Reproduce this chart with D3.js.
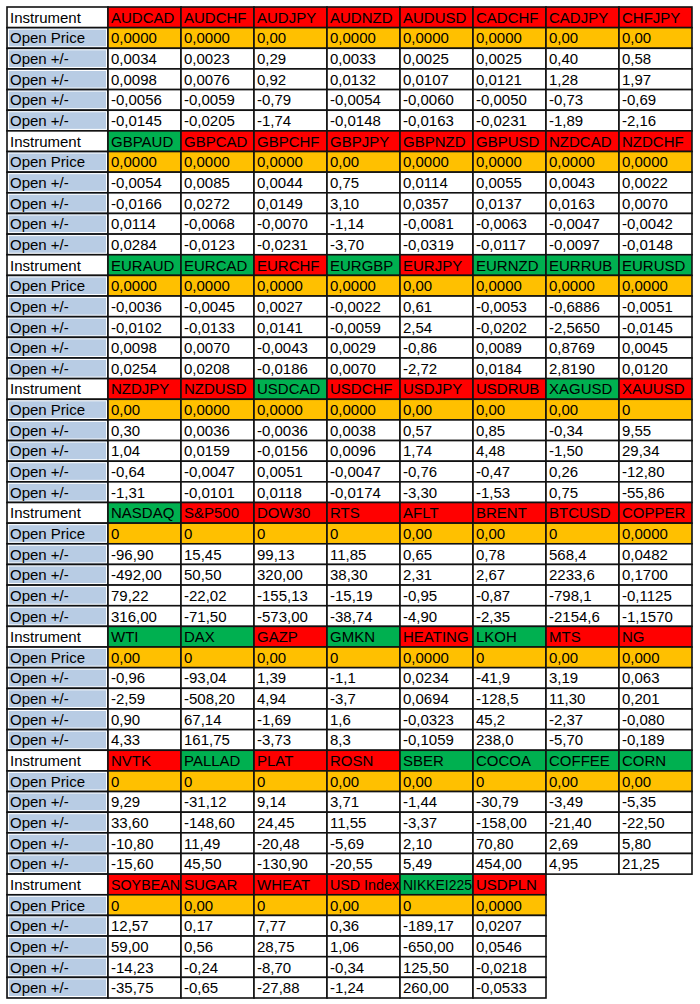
<!DOCTYPE html>
<html>
<head>
<meta charset="utf-8">
<script src="https://cdn.jsdelivr.net/npm/d3@7"></script>
<style>
  body { margin: 0; background: #fff; }
  svg { display: block; }
</style>
</head>
<body>
<div id="chart"></div>
<script>
// instruments per block (8 blocks, last one shorter)
const instruments = [
  ["AUDCAD", "AUDCHF", "AUDJPY", "AUDNZD", "AUDUSD", "CADCHF", "CADJPY", "CHFJPY"],
  ["GBPAUD", "GBPCAD", "GBPCHF", "GBPJPY", "GBPNZD", "GBPUSD", "NZDCAD", "NZDCHF"],
  ["EURAUD", "EURCAD", "EURCHF", "EURGBP", "EURJPY", "EURNZD", "EURRUB", "EURUSD"],
  ["NZDJPY", "NZDUSD", "USDCAD", "USDCHF", "USDJPY", "USDRUB", "XAGUSD", "XAUUSD"],
  ["NASDAQ", "S&P500", "DOW30", "RTS", "AFLT", "BRENT", "BTCUSD", "COPPER"],
  ["WTI", "DAX", "GAZP", "GMKN", "HEATING", "LKOH", "MTS", "NG"],
  ["NVTK", "PALLAD", "PLAT", "ROSN", "SBER", "COCOA", "COFFEE", "CORN"],
  ["SOYBEAN", "SUGAR", "WHEAT", "USD Index", "NIKKEI225", "USDPLN"]
];

const openPrices = [
  ["0,0000", "0,0000", "0,00", "0,0000", "0,0000", "0,0000", "0,00", "0,00"],
  ["0,0000", "0,0000", "0,0000", "0,00", "0,0000", "0,0000", "0,0000", "0,0000"],
  ["0,0000", "0,0000", "0,0000", "0,0000", "0,00", "0,0000", "0,0000", "0,0000"],
  ["0,00", "0,0000", "0,0000", "0,0000", "0,00", "0,00", "0,00", "0"],
  ["0", "0", "0", "0", "0,00", "0,00", "0", "0,0000"],
  ["0,00", "0", "0,00", "0", "0,0000", "0", "0,00", "0,000"],
  ["0", "0", "0", "0,00", "0,00", "0", "0,00", "0,00"],
  ["0", "0,00", "0", "0,00", "0", "0,0000"]
];

// four "Open +/-" rows per block
const moves = [
  [["0,0034", "0,0023", "0,29", "0,0033", "0,0025", "0,0025", "0,40", "0,58"],
   ["0,0098", "0,0076", "0,92", "0,0132", "0,0107", "0,0121", "1,28", "1,97"],
   ["-0,0056", "-0,0059", "-0,79", "-0,0054", "-0,0060", "-0,0050", "-0,73", "-0,69"],
   ["-0,0145", "-0,0205", "-1,74", "-0,0148", "-0,0163", "-0,0231", "-1,89", "-2,16"]],
  [["-0,0054", "0,0085", "0,0044", "0,75", "0,0114", "0,0055", "0,0043", "0,0022"],
   ["-0,0166", "0,0272", "0,0149", "3,10", "0,0357", "0,0137", "0,0163", "0,0070"],
   ["0,0114", "-0,0068", "-0,0070", "-1,14", "-0,0081", "-0,0063", "-0,0047", "-0,0042"],
   ["0,0284", "-0,0123", "-0,0231", "-3,70", "-0,0319", "-0,0117", "-0,0097", "-0,0148"]],
  [["-0,0036", "-0,0045", "0,0027", "-0,0022", "0,61", "-0,0053", "-0,6886", "-0,0051"],
   ["-0,0102", "-0,0133", "0,0141", "-0,0059", "2,54", "-0,0202", "-2,5650", "-0,0145"],
   ["0,0098", "0,0070", "-0,0043", "0,0029", "-0,86", "0,0089", "0,8769", "0,0045"],
   ["0,0254", "0,0208", "-0,0186", "0,0070", "-2,72", "0,0184", "2,8190", "0,0120"]],
  [["0,30", "0,0036", "-0,0036", "0,0038", "0,57", "0,85", "-0,34", "9,55"],
   ["1,04", "0,0159", "-0,0156", "0,0096", "1,74", "4,48", "-1,50", "29,34"],
   ["-0,64", "-0,0047", "0,0051", "-0,0047", "-0,76", "-0,47", "0,26", "-12,80"],
   ["-1,31", "-0,0101", "0,0118", "-0,0174", "-3,30", "-1,53", "0,75", "-55,86"]],
  [["-96,90", "15,45", "99,13", "11,85", "0,65", "0,78", "568,4", "0,0482"],
   ["-492,00", "50,50", "320,00", "38,30", "2,31", "2,67", "2233,6", "0,1700"],
   ["79,22", "-22,02", "-155,13", "-15,19", "-0,95", "-0,87", "-798,1", "-0,1125"],
   ["316,00", "-71,50", "-573,00", "-38,74", "-4,90", "-2,35", "-2154,6", "-1,1570"]],
  [["-0,96", "-93,04", "1,39", "-1,1", "0,0234", "-41,9", "3,19", "0,063"],
   ["-2,59", "-508,20", "4,94", "-3,7", "0,0694", "-128,5", "11,30", "0,201"],
   ["0,90", "67,14", "-1,69", "1,6", "-0,0323", "45,2", "-2,37", "-0,080"],
   ["4,33", "161,75", "-3,73", "8,3", "-0,1059", "238,0", "-5,70", "-0,189"]],
  [["9,29", "-31,12", "9,14", "3,71", "-1,44", "-30,79", "-3,49", "-5,35"],
   ["33,60", "-148,60", "24,45", "11,55", "-3,37", "-158,00", "-21,40", "-22,50"],
   ["-10,80", "11,49", "-20,48", "-5,69", "2,10", "70,80", "2,69", "5,80"],
   ["-15,60", "45,50", "-130,90", "-20,55", "5,49", "454,00", "4,95", "21,25"]],
  [["12,57", "0,17", "7,77", "0,36", "-189,17", "0,0207"],
   ["59,00", "0,56", "28,75", "1,06", "-650,00", "0,0546"],
   ["-14,23", "-0,24", "-8,70", "-0,34", "125,50", "-0,0218"],
   ["-35,75", "-0,65", "-27,88", "-1,24", "260,00", "-0,0533"]]
];

const rowLabels = ["Instrument", "Open Price", "Open +/-", "Open +/-", "Open +/-", "Open +/-"];

const width = 700;
const height = 1004;
const fontSize = 15;

const color = {
  up: "#ff0000",
  down: "#00b050",
  open: "#ffc000",
  label: "#b8cce4",
  line: "#111"
};

const toNum = s => +s.replace(",", ".");

// header colour follows the sign of the first move
const headColor = d3.scaleThreshold()
  .domain([0])
  .range([color.down, color.up]);

const rowsPerBlock = rowLabels.length;
const nRows = instruments.length * rowsPerBlock;

const y = d3.scaleBand()
  .domain(d3.range(nRows))
  .range([7, 998]);

const xLabel = { x0: 7, x1: 108 };

const x = d3.scaleBand()
  .domain(d3.range(8))
  .range([108, 692]);

// build a flat cell list
let cells = [];
instruments.forEach((names, b) => {
  const r0 = b * rowsPerBlock;
  rowLabels.forEach((lab, r) => {
    cells.push({
      kind: "label", row: r0 + r, text: lab,
      x: xLabel.x0, w: xLabel.x1 - xLabel.x0,
      fill: r === 0 ? "#fff" : color.label
    });
  });
  names.forEach((name, i) => {
    const first = toNum(moves[b][0][i]);
    cells.push({ kind: "head", row: r0, col: i, text: name, fill: headColor(first) });
    cells.push({ kind: "open", row: r0 + 1, col: i, text: openPrices[b][i], fill: color.open });
    moves[b].forEach((vals, k) => {
      cells.push({ kind: "val", row: r0 + 2 + k, col: i, text: vals[i], fill: "#fff" });
    });
  });
});

cells.forEach(c => {
  if (c.kind !== "label") {
    c.x = x(c.col);
    c.w = x.bandwidth();
  }
  c.y = y(c.row);
  c.h = y.bandwidth();
});

const svg = d3.select("#chart").append("svg")
  .attr("width", width)
  .attr("height", height)
  .style("font-family", "'Liberation Sans', Arial, sans-serif")
  .style("font-size", fontSize + "px");

const cell = svg.append("g")
  .selectAll("g")
  .data(cells)
  .enter().append("g")
  .attr("transform", d => `translate(${d.x},${d.y})`);

cell.append("rect")
  .attr("width", d => d.w)
  .attr("height", d => d.h)
  .attr("fill", d => d.fill);

// thin white inner edge on the blue label cells
cell.filter(d => d.kind === "label" && d.fill !== "#fff")
  .append("rect")
  .attr("x", 1.5)
  .attr("y", 1.5)
  .attr("width", d => d.w - 3)
  .attr("height", d => d.h - 3)
  .attr("fill", "none")
  .attr("stroke", "#fff")
  .attr("stroke-width", 1);

cell.append("rect")
  .attr("width", d => d.w)
  .attr("height", d => d.h)
  .attr("fill", "none")
  .attr("stroke", color.line)
  .attr("stroke-width", 1.6);

const txt = cell.append("text")
  .attr("x", 3)
  .attr("y", d => d.h / 2 + 5.5)
  .attr("fill", "#000")
  .text(d => d.text);

// squeeze long headers into their cell, as the spreadsheet does
txt.each(function (d) {
  const len = this.getComputedTextLength();
  const room = d.w - 4;
  if (len > room) {
    d3.select(this)
      .attr("textLength", room)
      .attr("lengthAdjust", "spacingAndGlyphs");
  }
});
</script>
</body>
</html>
